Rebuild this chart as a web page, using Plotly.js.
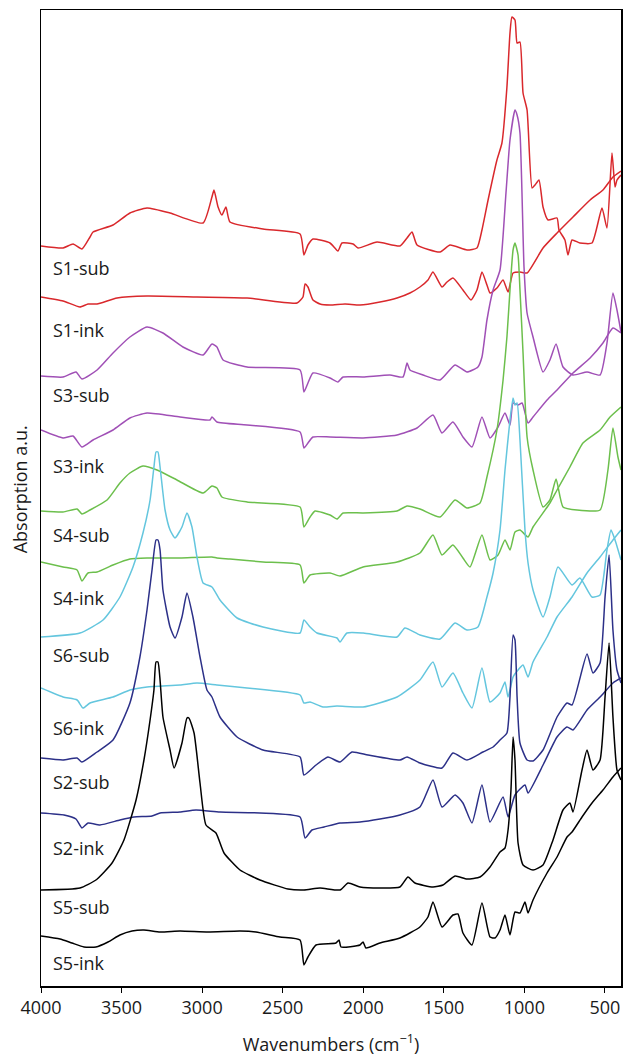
<!DOCTYPE html>
<html>
<head>
<meta charset="utf-8">
<script src="https://cdn.plot.ly/plotly-3.0.1.min.js"></script>
<style>html,body{margin:0;padding:0;background:#fff;}#chart{width:626px;height:1056px;}</style>
</head>
<body>
<div id="chart"></div>
<script>
// Sample names (top to bottom)
const sampleNames = ['S1-sub','S1-ink','S3-sub','S3-ink','S4-sub','S4-ink','S6-sub','S6-ink','S2-sub','S2-ink','S5-sub','S5-ink'];

// Wavenumbers (cm-1) and stacked absorption (a.u.) for each spectrum
const s1subX = [4000,3863,3801,3746,3696,3677,3553,3448,3342,3199,2994,2939,2926,2901,2877,2852,2827,2622,2392,2368,2343,2312,2206,2157,2132,2063,2032,1914,1772,1728,1697,1666,1523,1461,1356,1294,1263,1225,1170,1139,1108,1089,1077,1058,1045,1027,1008,983,952,934,909,884,853,797,785,748,729,704,655,580,518,487,456,437,425,400];
const s1subY = [74.0,73.8,74.2,73.7,74.9,75.4,76.1,77.3,77.8,77.3,76.3,78.9,79.6,77.9,77.1,77.9,76.4,75.7,75.2,73.1,74.1,74.7,74.3,73.5,74.3,74.2,73.8,74.4,74.0,74.8,75.4,74.1,73.4,74.1,73.6,73.8,75.6,78.6,82.6,84.3,89.9,95.3,96.9,96.6,94.3,94.4,89.3,87.6,79.8,80.1,80.6,77.9,76.6,76.8,75.6,74.6,73.1,74.6,74.3,74.3,77.8,75.8,83.3,79.9,80.6,81.1];

const s1inkX = [4000,3863,3758,3708,3652,3528,3342,3032,2721,2411,2374,2361,2343,2312,2268,2206,2113,2020,1896,1790,1710,1648,1598,1567,1511,1480,1443,1381,1331,1294,1263,1232,1213,1170,1132,1101,1070,1027,983,884,797,698,592,512,450,400];
const s1inkY = [68.9,68.5,67.9,68.2,68.2,68.8,69.0,68.9,68.8,68.3,68.9,70.2,69.9,68.6,68.2,68.1,68.2,68.1,68.4,68.8,69.3,69.9,70.6,71.4,69.9,70.4,70.8,69.6,68.6,69.6,71.4,70.1,69.3,69.8,70.6,69.4,71.3,71.4,71.3,73.8,75.3,76.9,78.6,79.6,80.9,81.5];

const s3subX = [4000,3863,3783,3746,3652,3553,3448,3342,3243,3119,2994,2939,2908,2870,2721,2392,2368,2343,2312,2206,2157,2125,2001,1834,1753,1728,1710,1629,1523,1430,1356,1288,1263,1232,1194,1151,1114,1089,1058,1045,1027,1002,983,946,884,841,803,760,698,611,530,487,450,425,400];
const s3subY = [61.0,60.9,61.4,60.7,61.6,63.3,64.9,65.9,65.3,63.9,63.1,64.2,63.9,62.6,61.9,61.6,59.4,60.3,61.3,60.8,60.4,60.9,60.9,61.1,60.9,62.3,61.6,61.1,60.6,62.1,61.4,61.9,62.9,66.6,69.6,71.6,79.3,84.6,87.6,87.1,85.3,71.9,67.3,64.9,61.4,62.6,64.2,61.9,61.1,61.4,61.1,64.3,69.3,67.6,65.4];

const s3inkX = [4000,3863,3801,3746,3677,3553,3448,3342,3137,2951,2939,2908,2721,2392,2368,2343,2312,2206,2001,1790,1666,1567,1511,1443,1381,1325,1263,1213,1163,1120,1089,1070,1039,1014,977,946,859,797,698,592,512,450,400];
const s3inkY = [55.6,54.8,55.0,53.9,54.6,55.6,56.8,57.3,56.9,56.6,56.9,56.4,56.1,55.4,53.8,54.3,54.9,54.9,54.8,55.1,55.8,57.1,55.3,56.4,54.9,53.9,56.9,54.8,55.9,57.3,56.1,58.3,58.1,58.3,56.3,56.9,58.6,59.6,61.3,62.8,64.3,65.8,65.3];

const s4subX = [4000,3863,3776,3746,3696,3590,3510,3448,3367,3280,3156,2994,2939,2908,2877,2721,2392,2368,2330,2299,2206,2163,2125,2001,1790,1728,1648,1523,1430,1356,1275,1232,1170,1132,1108,1089,1070,1058,1039,1027,1008,983,946,884,841,803,760,673,530,481,450,419,400];
const s4subY = [47.5,47.4,47.7,47.2,47.6,48.6,50.3,51.3,52.0,51.6,50.6,49.3,50.0,49.8,48.9,48.4,47.9,45.9,46.9,47.5,47.1,46.7,47.3,47.3,47.5,48.0,47.7,46.9,48.6,47.8,48.3,50.9,55.6,60.6,64.9,69.6,73.6,74.3,73.1,69.6,63.3,54.9,51.6,47.9,48.6,50.7,47.9,47.6,47.6,51.6,55.8,52.9,51.6];

const s4inkX = [4000,3863,3776,3746,3708,3652,3553,3448,3342,3137,2939,2908,2827,2622,2392,2368,2330,2206,2144,2001,1790,1648,1567,1511,1443,1381,1337,1263,1213,1163,1120,1089,1058,1027,977,946,841,797,717,636,530,468,400];
const s4inkY = [42.4,41.9,41.6,40.5,41.3,41.4,42.1,42.7,42.8,42.8,42.9,42.8,42.7,42.4,42.1,40.3,41.1,41.3,41.0,41.9,42.4,43.3,45.1,43.1,44.1,42.8,41.9,45.1,42.6,43.1,44.6,43.6,45.4,45.6,44.9,45.9,48.3,49.6,51.9,54.3,55.6,56.9,57.9];

const s6subX = [4000,3758,3615,3510,3429,3367,3323,3299,3286,3274,3261,3230,3199,3168,3125,3094,3063,3032,2994,2939,2889,2783,2622,2392,2368,2330,2287,2163,2144,2101,2001,1790,1741,1648,1523,1430,1356,1288,1232,1194,1151,1120,1089,1070,1058,1045,1027,996,977,946,884,841,791,704,655,580,530,487,462,437,400];
const s6subY = [34.9,35.3,36.6,38.9,41.9,45.3,48.6,51.9,53.4,53.4,51.9,47.6,45.6,44.8,45.9,47.3,45.9,42.9,40.3,39.9,38.6,36.8,35.9,35.3,36.6,35.9,35.3,34.8,34.4,35.3,35.3,34.9,35.8,35.1,34.7,36.3,35.6,35.9,38.9,41.3,45.6,51.6,56.6,58.8,58.1,58.3,54.6,45.6,42.3,39.6,36.9,38.9,41.9,40.1,40.8,38.9,39.1,43.6,45.6,44.6,42.6];

const s6inkX = [4000,3863,3776,3739,3696,3553,3448,3342,3137,3032,2908,2721,2392,2368,2330,2250,2163,2001,1790,1648,1567,1511,1443,1381,1325,1263,1213,1151,1120,1101,1070,1039,1008,977,946,859,797,704,611,530,450,400];
const s6inkY = [29.8,28.9,28.6,27.8,28.3,28.9,29.6,29.9,30.1,30.3,30.1,29.8,29.1,28.3,28.4,27.9,28.0,27.9,28.9,30.6,32.4,29.9,31.3,29.3,27.8,31.8,28.4,29.3,30.4,28.9,30.9,31.6,32.1,30.9,32.4,34.9,36.9,38.9,41.3,42.9,44.6,45.6];

const s2subX = [4000,3863,3776,3746,3652,3553,3448,3386,3342,3311,3286,3274,3261,3243,3199,3168,3125,3094,3057,3013,2970,2939,2889,2783,2622,2392,2368,2293,2219,2144,2070,1970,1772,1728,1648,1511,1443,1356,1257,1194,1151,1108,1089,1070,1058,1045,1027,983,946,884,797,735,704,611,574,530,499,474,450,425,400];
const s2subY = [22.8,22.6,22.8,22.4,23.4,24.6,28.3,32.9,37.6,41.6,44.6,44.6,43.6,39.6,35.9,34.8,36.9,39.3,36.9,32.9,29.6,28.9,26.9,24.9,23.6,22.9,21.1,22.1,22.9,22.4,23.4,23.1,22.6,22.9,22.3,21.8,23.3,22.6,23.4,23.9,24.6,25.3,28.9,35.1,34.6,28.9,24.3,22.6,22.5,23.6,26.9,28.3,28.1,33.2,31.3,32.3,38.9,43.1,35.6,31.6,30.3];

const s2inkX = [4000,3857,3783,3746,3708,3634,3510,3423,3311,3261,3137,3038,2889,2641,2392,2361,2318,2243,2144,2020,1896,1772,1648,1567,1511,1430,1381,1325,1263,1213,1132,1101,1058,996,977,884,797,735,698,611,530,450,400];
const s2inkY = [17.3,17.1,16.7,15.8,16.3,16.1,16.6,16.9,17.0,17.3,17.4,17.6,17.4,17.3,16.9,14.8,15.6,15.9,16.3,16.4,16.7,17.1,17.9,20.6,17.9,19.1,18.3,16.3,20.1,16.4,18.9,16.9,19.1,20.1,19.3,22.1,24.9,25.9,25.6,27.6,28.9,30.3,30.8];

const s5subX = [4000,3758,3659,3559,3485,3410,3361,3323,3299,3286,3274,3261,3243,3199,3174,3125,3094,3082,3050,3013,2976,2914,2864,2765,2641,2467,2368,2268,2144,2094,2020,1896,1772,1722,1679,1567,1505,1430,1356,1275,1213,1151,1120,1101,1083,1070,1058,1039,1008,946,884,822,760,717,698,642,611,574,530,499,474,450,425,400];
const s5subY = [9.6,9.8,10.6,12.3,14.6,18.6,22.6,26.6,29.6,32.4,32.4,30.6,26.9,23.6,21.8,24.3,26.8,26.8,25.3,20.3,16.1,15.3,13.3,11.6,10.6,9.7,9.6,9.8,9.6,10.3,9.9,9.8,9.9,10.9,10.3,9.9,10.1,11.0,10.7,10.9,11.9,13.4,13.8,15.6,19.6,24.9,22.6,14.3,12.1,11.6,12.1,14.6,17.6,18.3,17.4,21.6,23.6,21.6,22.6,28.9,34.3,26.9,21.6,20.6];

const s5inkX = [4000,3882,3808,3733,3659,3584,3510,3435,3361,3261,3137,2963,2765,2666,2517,2392,2368,2343,2293,2169,2150,2138,2020,2001,1983,1896,1772,1648,1598,1567,1511,1443,1412,1381,1325,1263,1213,1182,1151,1120,1089,1058,1027,996,977,946,859,797,735,704,642,580,512,450,400];
const s5inkY = [5.0,4.7,4.3,3.9,3.9,4.4,5.1,5.5,5.6,5.4,5.5,5.4,5.5,5.4,4.9,4.6,2.1,2.9,4.1,4.3,4.6,3.9,4.1,4.4,3.8,4.3,4.8,5.9,6.9,8.4,5.9,7.1,7.2,5.3,4.1,8.3,4.9,4.8,5.6,7.1,5.1,7.4,7.3,8.4,7.3,8.6,11.3,12.9,14.9,15.4,16.9,18.3,19.6,20.9,21.8];

const tickValues = [4000,3500,3000,2500,2000,1500,1000,500];
const tickLabels = ['4000','3500','3000','2500','2000','1500','1000','500'];

// ---- presentation ----
const seriesX = [s1subX,s1inkX,s3subX,s3inkX,s4subX,s4inkX,s6subX,s6inkX,s2subX,s2inkX,s5subX,s5inkX];
const seriesY = [s1subY,s1inkY,s3subY,s3inkY,s4subY,s4inkY,s6subY,s6inkY,s2subY,s2inkY,s5subY,s5inkY];
const colors = ['#d9282c','#d9282c','#a050b6','#a050b6','#6cbf4c','#6cbf4c','#64c6de','#64c6de','#2c3088','#2c3088','#000000','#000000'];
const labelLevel = [71.8,65.6,59.1,52.0,45.1,38.8,33.1,25.8,20.4,13.8,7.9,2.3];

const font = 'Open Sans, Noto Sans, sans-serif';
const traces = sampleNames.map((n, i) => ({
  type: 'scatter', mode: 'lines', name: n,
  x: seriesX[i], y: seriesY[i],
  line: {color: colors[i], width: 1.5, shape: 'spline', smoothing: 0.5},
  hoverinfo: 'skip'
}));

const annotations = sampleNames.map((n, i) => ({
  text: n, xref: 'x', yref: 'y', x: 3940, y: labelLevel[i],
  xanchor: 'left', yanchor: 'middle', showarrow: false,
  font: {family: font, size: 18, color: '#1a1a1a'}
}));
annotations.push({
  text: 'Absorption a.u.', xref: 'paper', yref: 'paper', x: -0.036, y: 0.509,
  xanchor: 'center', yanchor: 'middle', textangle: -90, showarrow: false,
  font: {family: font, size: 18, color: '#1a1a1a'}
});

const layout = {
  width: 626, height: 1056,
  margin: {l: 41, r: 5, t: 10, b: 70},
  paper_bgcolor: '#fff', plot_bgcolor: '#fff',
  showlegend: false,
  xaxis: {
    range: [4000, 400], tickmode: 'array', tickvals: tickValues, ticktext: tickLabels,
    ticks: 'outside', ticklen: 5, tickwidth: 1, tickcolor: '#000',
    showline: true, mirror: true, linecolor: '#000', linewidth: 1.5,
    showgrid: false, zeroline: false,
    tickfont: {family: font, size: 18, color: '#1a1a1a'},
    title: {text: 'Wavenumbers (cm<sup>\u22121</sup>)', font: {family: font, size: 18, color: '#1a1a1a'}, standoff: 20}
  },
  yaxis: {
    range: [0, 97.6], showticklabels: false, ticks: '',
    showline: true, mirror: true, linecolor: '#000', linewidth: 1.5,
    showgrid: false, zeroline: false
  },
  annotations: annotations
};

Plotly.newPlot('chart', traces, layout, {displayModeBar: false, staticPlot: true});
</script>
</body>
</html>
